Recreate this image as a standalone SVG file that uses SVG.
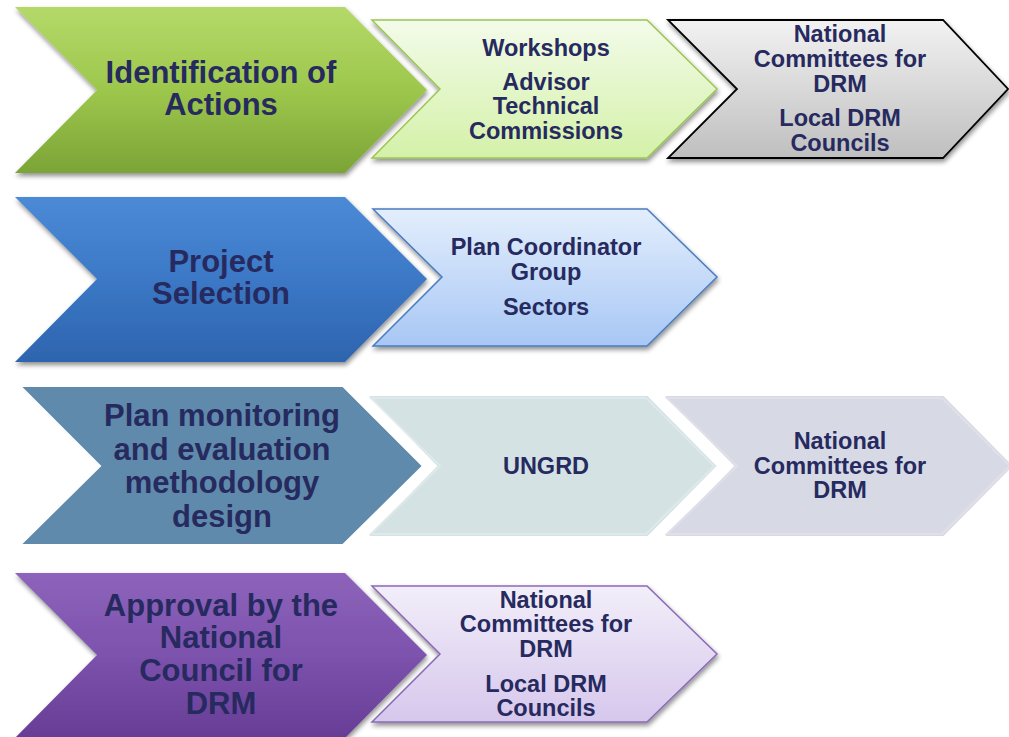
<svg xmlns="http://www.w3.org/2000/svg" width="1009" height="737" viewBox="0 0 1009 737">
<defs>
<filter id="sh" x="-5%" y="-5%" width="115%" height="120%">
<feGaussianBlur in="SourceAlpha" stdDeviation="2.5"/>
<feOffset dx="1" dy="3" result="b"/>
<feComponentTransfer><feFuncA type="linear" slope="0.45"/></feComponentTransfer>
<feMerge><feMergeNode/><feMergeNode in="SourceGraphic"/></feMerge>
</filter>
<linearGradient id="gGreen" x1="0" y1="0" x2="0" y2="1">
<stop offset="0" stop-color="#b4d969"/><stop offset="0.5" stop-color="#9dc74c"/><stop offset="1" stop-color="#7ba437"/>
</linearGradient>
<linearGradient id="gLGreen" x1="0" y1="0" x2="0" y2="1">
<stop offset="0" stop-color="#f3fbea"/><stop offset="1" stop-color="#d4f1a8"/>
</linearGradient>
<linearGradient id="gGray" x1="0" y1="0" x2="0" y2="1">
<stop offset="0" stop-color="#f2f2f2"/><stop offset="1" stop-color="#bfbfbf"/>
</linearGradient>
<linearGradient id="gBlue" x1="0" y1="0" x2="0" y2="1">
<stop offset="0" stop-color="#4c8ad6"/><stop offset="0.5" stop-color="#3b78c6"/><stop offset="1" stop-color="#2e64ae"/>
</linearGradient>
<linearGradient id="gLBlue" x1="0" y1="0" x2="0" y2="1">
<stop offset="0" stop-color="#e3eefc"/><stop offset="1" stop-color="#a8c7f5"/>
</linearGradient>
<linearGradient id="gPurple" x1="0" y1="0" x2="0" y2="1">
<stop offset="0" stop-color="#8d63bb"/><stop offset="0.5" stop-color="#7c52ad"/><stop offset="1" stop-color="#673d95"/>
</linearGradient>
<linearGradient id="gLPurple" x1="0" y1="0" x2="0" y2="1">
<stop offset="0" stop-color="#f2eef9"/><stop offset="1" stop-color="#d6c7ec"/>
</linearGradient>
</defs>
<style>
text{font-family:"Liberation Sans",Arial,sans-serif;font-weight:bold;fill:#262a5f;text-anchor:middle}
.big{font-size:31px}
.sm{font-size:23.5px}
</style>
<g id="connectors"/>
<g id="identification">
<polygon points="15,7 345,7 427,90 345,173 15,173 97,90" fill="url(#gGreen)" filter="url(#sh)"/>
<text class="big" x="221" y="83">Identification of</text>
<text class="big" x="221" y="115">Actions</text>
</g>
<g id="workshops">
<polygon points="372,20 647,20 717,89 647,158 372,158 440,89" fill="url(#gLGreen)" stroke="#9cc653" stroke-width="1.5" filter="url(#sh)"/>
<text class="sm" x="546" y="56">Workshops</text>
<text class="sm" x="546" y="89.5">Advisor</text>
<text class="sm" x="546" y="114">Technical</text>
<text class="sm" x="546" y="138.5">Commissions</text>
</g>
<g id="committees1">
<polygon points="668,20 943,20 1008,89 943,158 668,158 737,89" fill="url(#gGray)" stroke="#000" stroke-width="1.8" filter="url(#sh)"/>
<text class="sm" x="840" y="42">National</text>
<text class="sm" x="840" y="67">Committees for</text>
<text class="sm" x="840" y="92">DRM</text>
<text class="sm" x="840" y="126">Local DRM</text>
<text class="sm" x="840" y="151">Councils</text>
</g>
<g id="project">
<polygon points="15,197 345,197 427,279 345,362 15,362 97,279" fill="url(#gBlue)" filter="url(#sh)"/>
<text class="big" x="221" y="272">Project</text>
<text class="big" x="221" y="304">Selection</text>
</g>
<g id="plancoord">
<polygon points="373,209 647,209 717,277 647,346 373,346 442,277" fill="url(#gLBlue)" stroke="#4a7cc0" stroke-width="1.5" filter="url(#sh)"/>
<text class="sm" x="546" y="255">Plan Coordinator</text>
<text class="sm" x="546" y="280">Group</text>
<text class="sm" x="546" y="315">Sectors</text>
</g>
<g id="monitoring">
<polygon points="20,386 343,386 423,466 343,545 20,545 100,466" fill="#5f8aab" stroke="#fff" stroke-width="2"/>
<text class="big" x="222" y="426">Plan monitoring</text>
<text class="big" x="222" y="460">and evaluation</text>
<text class="big" x="222" y="493">methodology</text>
<text class="big" x="222" y="527">design</text>
</g>
<g id="ungrd">
<polygon points="367,395 648,395 718,466 648,537 367,537 436,466" fill="#d4e2e4" stroke="#fff" stroke-width="2"/>
<polygon points="371,398 646,398 714,466 646,534 371,534 440,466" fill="none" stroke="#dde9ea" stroke-width="2"/>
<text class="sm" x="546" y="474">UNGRD</text>
</g>
<g id="committees3">
<polygon points="663,395 944,395 1014,466 944,537 663,537 733,466" fill="#d7d9e5" stroke="#fff" stroke-width="2"/>
<polygon points="667,398 942,398 1010,466 942,534 667,534 737,466" fill="none" stroke="#dfe0ea" stroke-width="2"/>
<text class="sm" x="840" y="449">National</text>
<text class="sm" x="840" y="474">Committees for</text>
<text class="sm" x="840" y="498">DRM</text>
</g>
<g id="approval">
<polygon points="15,573 345,573 427,655 345,738 15,738 97,655" fill="url(#gPurple)" filter="url(#sh)"/>
<text class="big" x="221" y="616">Approval by the</text>
<text class="big" x="221" y="648">National</text>
<text class="big" x="221" y="681">Council for</text>
<text class="big" x="221" y="714">DRM</text>
</g>
<g id="committees4">
<polygon points="372,586 647,586 717,654 647,722 372,722 440,654" fill="url(#gLPurple)" stroke="#8a6bb8" stroke-width="1.5" filter="url(#sh)"/>
<text class="sm" x="546" y="608">National</text>
<text class="sm" x="546" y="632">Committees for</text>
<text class="sm" x="546" y="657">DRM</text>
<text class="sm" x="546" y="692">Local DRM</text>
<text class="sm" x="546" y="716">Councils</text>
</g>
</svg>
